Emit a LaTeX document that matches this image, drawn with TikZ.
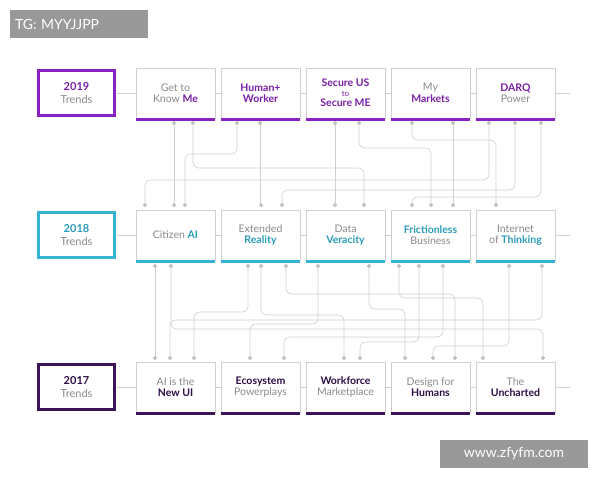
\documentclass[tikz,border=0pt]{standalone}
\usepackage{fontspec}
\setmainfont{Lato}
\begin{document}
\definecolor{pA}{HTML}{8A22C2}
\definecolor{pAt}{HTML}{7A1FA8}
\definecolor{cB}{HTML}{36B3D2}
\definecolor{cBt}{HTML}{2A9CB8}
\definecolor{dC}{HTML}{3A1456}
\definecolor{dCt}{HTML}{2D0E45}
\definecolor{gl}{HTML}{CFCFCF}
\definecolor{gt}{HTML}{8A8A8A}
\begin{tikzpicture}[x=1pt,y=-1pt,
  box/.style={draw=gl,fill=white,line width=0.5pt,minimum width=79pt,minimum height=50pt,inner sep=0pt,align=center,font=\fontsize{10.5}{11.5}\selectfont,text=gt},
  year/.style={fill=white,line width=3pt,minimum width=76pt,minimum height=45pt,align=center,font=\fontsize{11}{12.5}\selectfont,text=gt},
  dot/.style={circle,draw=gt,fill=white,line width=0.4pt,minimum size=3pt,inner sep=0pt},
  conn/.style={draw=gl,line width=0.6pt,rounded corners=6pt},
  wm/.style={fill=black!40,text=white,font=\fontsize{14}{16}\selectfont,inner sep=0pt}]
\useasboundingbox (0,0) rectangle (600,480);
% row lines
\foreach \y in {93,235,387} \draw[gl,line width=0.8pt] (117,\y) -- (570,\y);
% year boxes
\node[year,draw=pA] (y19) at (76.5,93) {\textbf{\color{pAt}2019}\\Trends};
\node[year,draw=cB] (y18) at (76.5,235) {\textbf{\color{cBt}2018}\\Trends};
\node[year,draw=dC] (y17) at (76.5,387) {\textbf{\color{dCt}2017}\\Trends};
% row boxes
\newcommand\rowboxes[4]{%
 \foreach \x/\t [count=\i] in {#3} {
  \node[box] (#1\i) at (\x,#2) {\t};
  \fill[#4] ([yshift=-3pt]#1\i.south west) rectangle (#1\i.south east);
 }}
\rowboxes{r}{93}{175.5/{Get to\\Know \textbf{\color{pAt}Me}},260.5/{\textbf{\color{pAt}Human+}\\\textbf{\color{pAt}Worker}},345.5/{\textbf{\color{pAt}Secure US}\\[-1.5pt]{\color{pAt}\fontsize{8}{8}\selectfont to}\\[-1.5pt]\textbf{\color{pAt}Secure ME}},430.5/{My\\\textbf{\color{pAt}Markets}},515.5/{\textbf{\color{pAt}DARQ}\\Power}}{pA}
\rowboxes{s}{235}{175.5/{Citizen \textbf{\color{cBt}AI}},260.5/{Extended\\\textbf{\color{cBt}Reality}},345.5/{Data\\\textbf{\color{cBt}Veracity}},430.5/{\textbf{\color{cBt}Frictionless}\\Business},515.5/{Internet\\of \textbf{\color{cBt}Thinking}}}{cB}
\rowboxes{u}{387}{175.5/{AI is the\\\textbf{\color{dCt}New UI}},260.5/{\textbf{\color{dCt}Ecosystem}\\Powerplays},345.5/{\textbf{\color{dCt}Workforce}\\Marketplace},430.5/{Design for\\\textbf{\color{dCt}Humans}},515.5/{The\\\textbf{\color{dCt}Uncharted}}}{dC}
% dots
\foreach \x [count=\i] in {174,193,237,260,335,359,412,453,489,515,541} \node[dot] (a\i) at (\x,123) {};
\foreach \x [count=\i] in {145,174,185,261,282,335,364,412,431,453,496} \node[dot] (b\i) at (\x,205) {};
\foreach \x [count=\i] in {155,171,248,261,286,318,369,399,419,443,509,542} \node[dot] (c\i) at (\x,266) {};
\foreach \x [count=\i] in {155,170,194,250,284,344,360,405,433,455,483,543} \node[dot] (d\i) at (\x,358) {};
% connectors 2019 -> 2018
\foreach \s/\t in {1/2,4/4,5/6,8/10} \draw[conn] (a\s) -- (a\s |- b\t);
\foreach \s/\t/\y in {2/7/168,3/3/154,6/9/148,7/11/140,9/1/180,10/5/190,11/8/197}
  \draw[conn] (a\s) -- (a\s |- 0,\y) -| (b\t);
% connectors 2018 -> 2017
\draw[conn] (c1) -- (d1);
\foreach \s/\t/\y in {2/12/329,3/3/312,4/6/315,5/10/294,6/4/324,7/8/309,8/11/298,9/7/342,10/5/337,11/9/346,12/2/320}
  \draw[conn] (c\s) -- (c\s |- 0,\y) -| (d\t);
% watermarks
\node[wm,minimum width=138pt,minimum height=28pt,text width=128pt,align=left] (w1) at (79,24) {TG: MYYJJPP};
\node[wm,minimum width=148pt,minimum height=28pt] (w2) at (514,454) {www.zfyfm.com};
\end{tikzpicture}
\end{document}
